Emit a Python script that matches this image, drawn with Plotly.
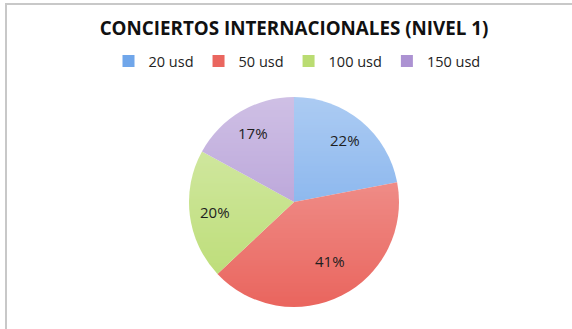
import base64
import math
import struct
import zlib

import plotly.graph_objects as go

# Ticket price tiers and share of buyers (%)
categories = ["20 usd", "50 usd", "100 usd", "150 usd"]
shares = [22, 41, 20, 17]
colors = ["#70A6EA", "#EA665F", "#BADC72", "#AC92D2"]

W, H = 572, 329

# pie placement in pixels
PIE_CX, PIE_CY, PIE_R = 294, 202, 105
LABEL_R = 80  # distance of the percentage labels from the centre


def sheen_png(n=64, alpha_top=0.42):
    """Tiny 1 x n PNG: white fading from alpha_top at the top to clear at the bottom."""
    raw = b""
    for i in range(n):
        a = int(round(255 * alpha_top * (1 - i / (n - 1))))
        raw += b"\x00" + bytes([255, 255, 255, a])

    def chunk(tag, data):
        body = tag + data
        return struct.pack(">I", len(data)) + body + struct.pack(">I", zlib.crc32(body) & 0xFFFFFFFF)

    png = b"\x89PNG\r\n\x1a\n"
    png += chunk(b"IHDR", struct.pack(">IIBBBBB", 1, n, 8, 6, 0, 0, 0))
    png += chunk(b"IDAT", zlib.compress(raw))
    png += chunk(b"IEND", b"")
    return "data:image/png;base64," + base64.b64encode(png).decode()


fig = go.Figure(
    go.Pie(
        labels=categories,
        values=shares,
        sort=False,
        direction="clockwise",
        rotation=0,
        marker=dict(colors=colors, line=dict(width=0)),
        textinfo="none",
        domain=dict(
            x=[(PIE_CX - PIE_R) / W, (PIE_CX + PIE_R) / W],
            y=[1 - (PIE_CY + PIE_R) / H, 1 - (PIE_CY - PIE_R) / H],
        ),
        hoverinfo="label+percent",
    )
)

# percentage labels placed at each slice's mid-angle (clockwise from 12 o'clock)
total = sum(shares)
cum = 0
for v in shares:
    mid = (cum + v / 2) / total * 2 * math.pi
    cum += v
    px = PIE_CX + LABEL_R * math.sin(mid)
    py = PIE_CY - LABEL_R * math.cos(mid)
    fig.add_annotation(
        x=px / W,
        y=1 - py / H,
        xref="paper",
        yref="paper",
        text=f"{v}%",
        showarrow=False,
        font=dict(family="Open Sans", size=15, color="#1E1E1E"),
    )

# soft top-to-bottom sheen over the pie
fig.add_layout_image(
    source=sheen_png(),
    xref="paper",
    yref="paper",
    x=(PIE_CX - PIE_R) / W,
    y=1 - (PIE_CY - PIE_R) / H,
    sizex=2 * PIE_R / W,
    sizey=2 * PIE_R / H,
    xanchor="left",
    yanchor="top",
    sizing="stretch",
    layer="above",
)

# thin grey frame along the left and top edges
fig.add_shape(
    type="path",
    path=f"M {6 / W} 0 L {6 / W} {1 - 4 / H} L 1 {1 - 4 / H}",
    xref="paper",
    yref="paper",
    line=dict(color="#C8C8C8", width=2),
)

fig.update_layout(
    width=W,
    height=H,
    margin=dict(l=0, r=0, t=0, b=0),
    paper_bgcolor="white",
    plot_bgcolor="white",
    title=dict(
        text="<b>CONCIERTOS INTERNACIONALES (NIVEL 1)</b>",
        x=294 / W,
        xanchor="center",
        y=1 - 28 / H,
        yanchor="middle",
        font=dict(family="Open Sans", size=18.8, color="#111111"),
    ),
    legend=dict(
        orientation="h",
        x=297 / W,
        xanchor="center",
        y=1 - 61 / H,
        yanchor="middle",
        font=dict(family="Open Sans", size=14.5, color="#222222"),
        itemwidth=30,
        traceorder="normal",
    ),
)

fig.write_html("out.html")
